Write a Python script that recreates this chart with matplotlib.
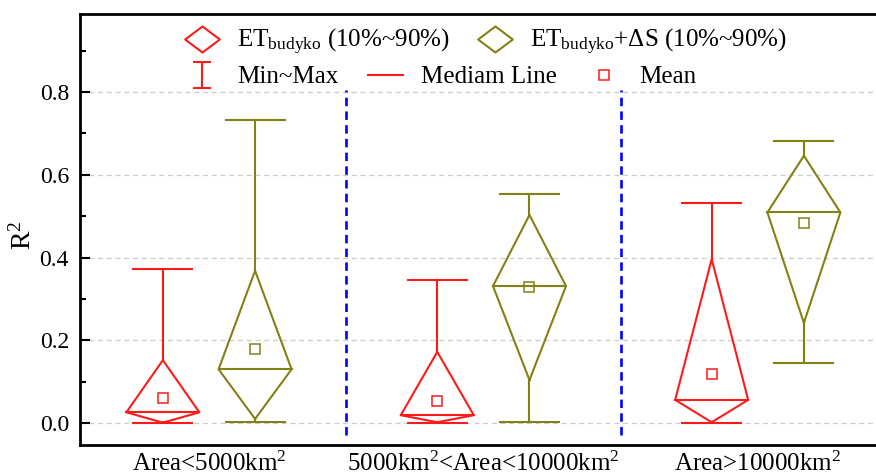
import numpy as np
import matplotlib
matplotlib.use('Agg')
import matplotlib.pyplot as plt
from matplotlib.lines import Line2D
from matplotlib.path import Path

plt.rcParams['font.family'] = ['Liberation Serif', 'DejaVu Serif']
plt.rcParams['mathtext.fontset'] = 'custom'
plt.rcParams['mathtext.rm'] = 'Liberation Serif'
plt.rcParams['mathtext.it'] = 'Liberation Serif:italic'

# categories
groups = ['Area<5000km$^2$', '5000km$^2$<Area<10000km$^2$', 'Area>10000km$^2$']

# ET_budyko statistics (min, 10%, median, 90%, max, mean)
et_min = [0.000, 0.000, 0.000]
et_p10 = [0.001, 0.002, 0.002]
et_med = [0.026, 0.019, 0.056]
et_p90 = [0.152, 0.172, 0.396]
et_max = [0.373, 0.346, 0.531]
et_mean = [0.061, 0.054, 0.118]

# ET_budyko + dS statistics
ets_min = [0.002, 0.002, 0.144]
ets_p10 = [0.010, 0.104, 0.242]
ets_med = [0.130, 0.331, 0.509]
ets_p90 = [0.368, 0.503, 0.646]
ets_max = [0.732, 0.553, 0.682]
ets_mean = [0.179, 0.328, 0.483]

red = '#ff1a1a'
olive = '#828214'

fig = plt.figure(figsize=(8.76, 4.76), dpi=100)
ax = fig.add_axes([80/876, 31/476, 815/876, 431/476])

def diamond_box(x, lo, p10, med, p90, hi, mean, color, w=0.266, cap=0.215):
    lw = 1.5
    ax.plot([x, x - w/2, x, x + w/2, x], [p10, med, p90, med, p10], color=color, lw=lw)
    ax.plot([x - w/2, x + w/2], [med, med], color=color, lw=lw)
    ax.plot([x, x], [p90, hi], color=color, lw=lw)
    ax.plot([x, x], [p10, lo], color=color, lw=lw)
    ax.plot([x - cap/2, x + cap/2], [hi, hi], color=color, lw=lw)
    ax.plot([x - cap/2, x + cap/2], [lo, lo], color=color, lw=lw)
    ax.plot([x], [mean], 's', mfc='none', mec=color, ms=6.5, mew=1.1)

pos = np.arange(1, len(groups) + 1)
off = 0.168
for i, p in enumerate(pos):
    diamond_box(p - off, et_min[i], et_p10[i], et_med[i], et_p90[i], et_max[i], et_mean[i], red)
    diamond_box(p + off, ets_min[i], ets_p10[i], ets_med[i], ets_p90[i], ets_max[i], ets_mean[i], olive)

# separators between groups
for xs in pos[:-1] + 0.5:
    ax.plot([xs, xs], [-0.03, 0.805], color='#0000ff', lw=1.9, dashes=(3.2, 2.0))

ax.set_xlim(0.53, 3.5)
ax.set_ylim(-0.053, 0.9885)
ax.set_xticks(pos)
ax.set_xticklabels(groups, fontsize=18)
ax.tick_params(axis='x', length=0, pad=5)
ax.set_yticks(np.arange(0, 0.81, 0.2))
ax.set_yticklabels(['0.0', '0.2', '0.4', '0.6', '0.8'], fontsize=17)
ax.set_yticks(np.arange(0.1, 0.91, 0.2), minor=True)
ax.tick_params(axis='y', which='major', direction='in', length=7, width=1.5, pad=8)
ax.tick_params(axis='y', which='minor', direction='in', length=4.5, width=1.5)
ax.grid(axis='y', which='major', color='#cccccc', lw=0.9, dashes=(4, 3))
ax.set_axisbelow(True)
for s in ['left', 'top', 'bottom']:
    ax.spines[s].set_linewidth(2.0)
ax.spines['right'].set_visible(False)
ax.set_ylabel('R$^2$', fontsize=20)
ax.yaxis.set_label_coords(-0.053, 0.487)

# legend handles
diamond = Path([(-1, 0), (0, 0.75), (1, 0), (0, -0.75), (-1, 0)],
               [Path.MOVETO, Path.LINETO, Path.LINETO, Path.LINETO, Path.CLOSEPOLY])
ibar = Path([(-0.35, 0.5), (0.35, 0.5), (0, 0.5), (0, -0.5), (-0.35, -0.5), (0.35, -0.5)],
            [Path.MOVETO, Path.LINETO, Path.MOVETO, Path.LINETO, Path.MOVETO, Path.LINETO])

h1 = [Line2D([], [], ls='none', marker=diamond, ms=25, mfc='none', mec=red, mew=1.5),
      Line2D([], [], ls='none', marker=diamond, ms=25, mfc='none', mec=olive, mew=1.5)]
l1 = ['ET$_{\\mathrm{budyko}}$ (10%~90%)', 'ET$_{\\mathrm{budyko}}$+ΔS (10%~90%)']
leg1 = ax.legend(h1, l1, ncol=2, frameon=False, fontsize=18, handlelength=1.4,
                 handletextpad=0.7, columnspacing=1.1, borderpad=0, borderaxespad=0,
                 loc='center left', bbox_to_anchor=(184.5/876, 1 - 42/476),
                 bbox_transform=fig.transFigure)
ax.add_artist(leg1)

h2 = [Line2D([], [], ls='none', marker=ibar, ms=19, mfc='none', mec=red, mew=1.5),
      Line2D([], [], color=red, lw=1.5),
      Line2D([], [], ls='none', marker='s', ms=6.5, mfc='none', mec=red, mew=1.1)]
l2 = ['Min~Max', 'Mediam Line', 'Mean']
ax.legend(h2, l2, ncol=3, frameon=False, fontsize=18, handlelength=1.4,
          handletextpad=0.7, columnspacing=1.2, borderpad=0, borderaxespad=0,
          loc='center left', bbox_to_anchor=(184.5/876, 1 - 77/476),
          bbox_transform=fig.transFigure)

fig.savefig('out.png', dpi=100)
